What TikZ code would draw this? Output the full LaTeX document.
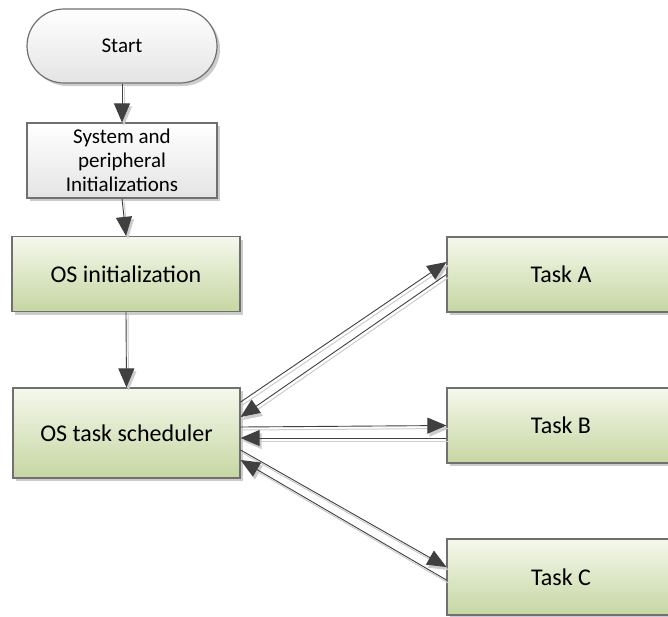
\documentclass[tikz,border=0pt]{standalone}
\usepackage{fontspec}
\setmainfont{Carlito}
\usetikzlibrary{shapes.misc,shadows,arrows.meta}
\definecolor{bordergray}{HTML}{707070}
\definecolor{greentop}{HTML}{F5F8EC}
\definecolor{greenbot}{HTML}{C6D6A2}
\definecolor{graytop}{HTML}{FFFFFF}
\definecolor{graybot}{HTML}{E4E4E4}
\definecolor{arrowdark}{HTML}{404040}
\definecolor{arrowlight}{HTML}{CCCCCC}
\tikzset{
  boxshadow/.style={drop shadow={shadow xshift=3pt,shadow yshift=-3pt,fill=black,opacity=0.2}},
  greenbox/.style={draw=bordergray,line width=1.2pt,top color=greentop,bottom color=greenbot,
     boxshadow,minimum width=228pt,minimum height=75pt,inner sep=0pt,
     font=\fontsize{24pt}{29pt}\selectfont},
  graybox/.style={draw=bordergray,line width=1.2pt,top color=graytop,bottom color=graybot,
     boxshadow,minimum width=190pt,minimum height=75pt,inner sep=0pt,align=center,
     font=\fontsize{21pt}{24pt}\selectfont},
  startbox/.style={graybox,rounded rectangle,minimum height=74pt},
  bigtip/.tip={Triangle[length=19pt,width=16pt]},
  conline/.style={draw=arrowdark,line width=0.9pt,-bigtip},
  shadowline/.style={draw=arrowlight,line width=1pt,-bigtip,
     transform canvas={xshift=2pt,yshift=-3pt}},
}
\begin{document}
\begin{tikzpicture}[x=1pt,y=-1pt]
\useasboundingbox (0,0) rectangle (668,616);
\clip (0,0) rectangle (668,616);
\node[startbox] (start) at (122,46) {Start};
\node[graybox] (sys) at (122,160.5) {System and\\peripheral\\Initializations};
\node[greenbox] (osinit) at (126,274) {OS initialization};
\node[greenbox,minimum width=227pt,minimum height=90pt] (sched) at (126.5,433) {OS task scheduler};
\node[greenbox] (taskA) at (561,274.5) {Task A};
\node[greenbox] (taskB) at (561,425.5) {Task B};
\node[greenbox,minimum height=76pt] (taskC) at (561,577) {Task C};

\coordinate (aout1) at ([yshift=31pt]sched.east);
\coordinate (aout2) at ([yshift=12.5pt]taskA.west);
\coordinate (aret1) at (taskA.west);
\coordinate (aret2) at ([yshift=16pt]sched.east);
\coordinate (bout1) at ([yshift=6pt]sched.east);
\coordinate (bout2) at (taskB.west);
\coordinate (bret1) at ([yshift=-12.5pt]taskB.west);
\coordinate (bret2) at ([yshift=-5pt]sched.east);
\coordinate (cout1) at ([yshift=-17pt]sched.east);
\coordinate (cout2) at ([yshift=10pt]taskC.west);
\coordinate (cret1) at ([yshift=-3pt]taskC.west);
\coordinate (cret2) at ([yshift=-27pt]sched.east);

\foreach \a/\b in {start.south/sys.north, sys.south/osinit.north, osinit.south/sched.north,
  aout1/aout2, aret1/aret2, bout1/bout2, bret1/bret2, cout1/cout2, cret1/cret2}{
  \draw[shadowline] (\a) -- (\b);
  \draw[conline] (\a) -- (\b);
}
\end{tikzpicture}
\end{document}
